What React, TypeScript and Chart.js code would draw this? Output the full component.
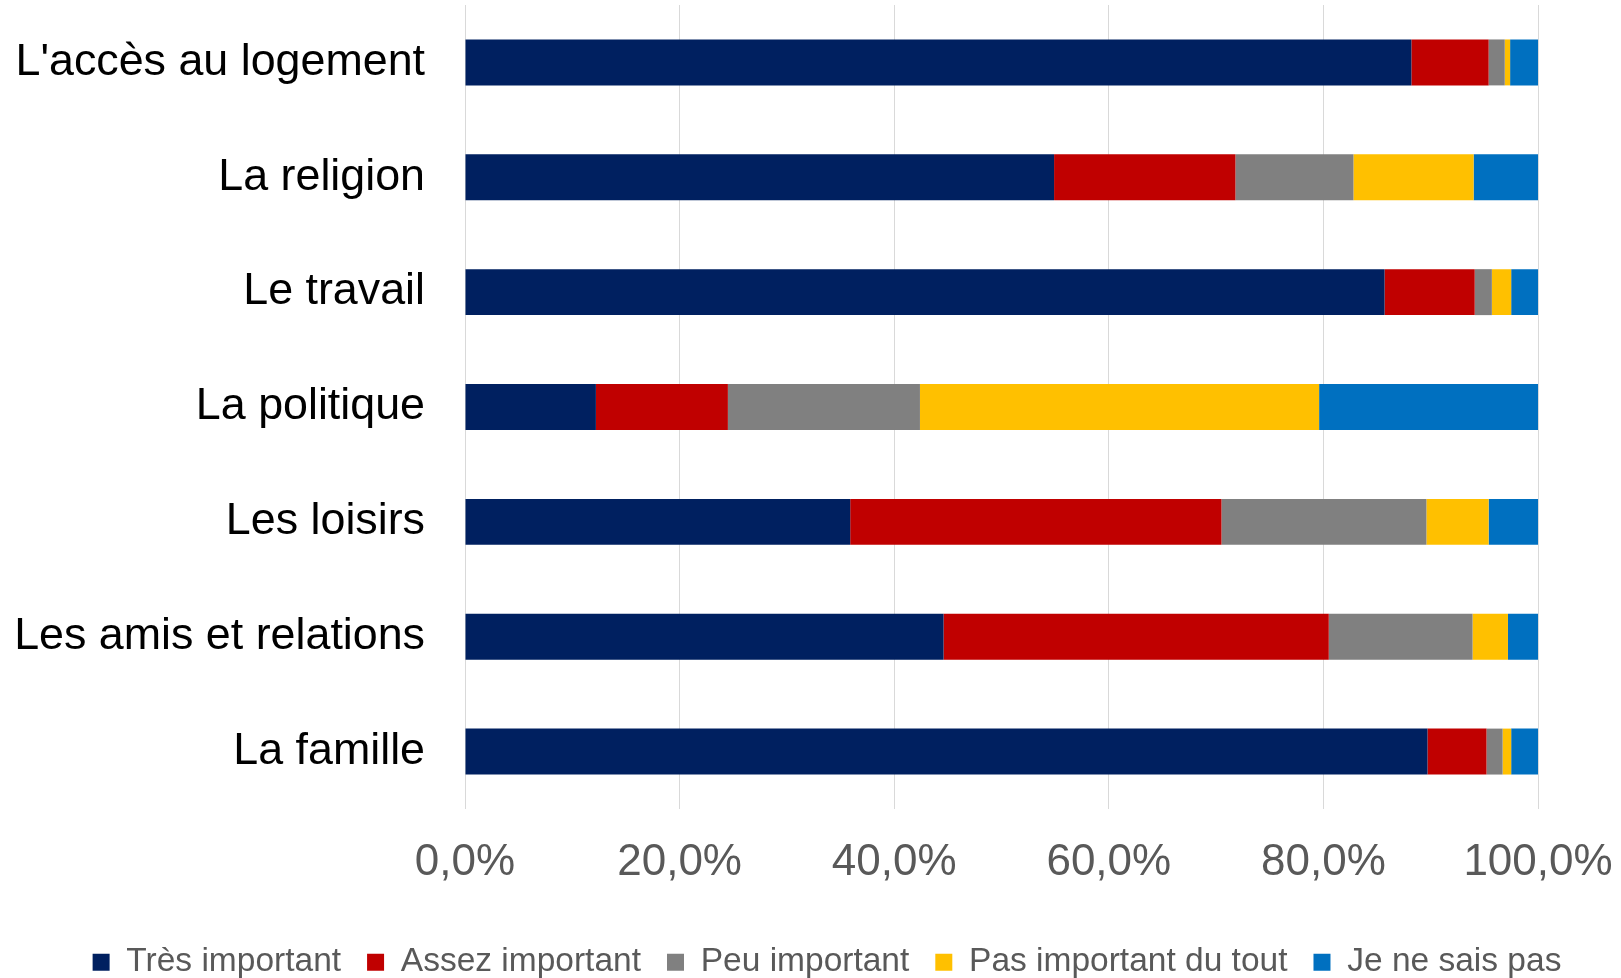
import React, { useEffect, useRef } from "react";
import { Chart, registerables } from "chart.js";

Chart.register(...registerables);

const categories = [
  "L'accès au logement",
  "La religion",
  "Le travail",
  "La politique",
  "Les loisirs",
  "Les amis et relations",
  "La famille",
];
const seriesNames = [
  "Très important",
  "Assez important",
  "Peu important",
  "Pas important du tout",
  "Je ne sais pas",
];
const tresImportant = [88.2, 54.9, 85.7, 12.2, 35.9, 44.6, 89.7];
const assezImportant = [7.2, 16.9, 8.4, 12.3, 34.6, 35.9, 5.5];
const peuImportant = [1.5, 11.0, 1.6, 17.9, 19.1, 13.4, 1.5];
const pasImportant = [0.5, 11.2, 1.8, 37.2, 5.8, 3.3, 0.8];
const neSaisPas = [2.6, 6.0, 2.5, 20.4, 4.6, 2.8, 2.5];
const seriesColors = ["#002060", "#C00000", "#808080", "#FFC000", "#0070C0"];
const xTicks = [0, 20, 40, 60, 80, 100];

const FONT = "'Liberation Sans', Arial, sans-serif";

export default function App() {
  const ref = useRef<HTMLCanvasElement>(null);

  useEffect(() => {
    document.body.style.margin = "0";
    Chart.defaults.font.family = FONT;
    const shiftLegend = {
      id: "shiftLegend",
      afterLayout(chart: any) {
        const l = chart.legend;
        if (l) {
          l.top += 11;
          l.bottom += 11;
          l.left += 58;
          l.right += 58;
        }
      },
    };
    const allValues = [tresImportant, assezImportant, peuImportant, pasImportant, neSaisPas];
    const chart = new Chart(ref.current as HTMLCanvasElement, {
      type: "bar",
      data: {
        labels: categories,
        datasets: seriesNames.map((name, i) => ({
          label: name,
          data: allValues[i],
          backgroundColor: seriesColors[i],
          borderWidth: 0,
          barPercentage: 0.4,
          categoryPercentage: 1,
        })),
      },
      options: {
        indexAxis: "y",
        responsive: false,
        animation: false,
        devicePixelRatio: 1,
        layout: { padding: { left: 0, right: 83, top: 5, bottom: 0 } },
        plugins: {
          tooltip: { enabled: false },
          legend: {
            position: "bottom",
            labels: {
              boxWidth: 17,
              boxHeight: 17,
              padding: 26,
              color: "#595959",
              font: { size: 33.5, family: FONT },
            },
          },
        },
        scales: {
          x: {
            stacked: true,
            min: 0,
            max: 100,
            afterBuildTicks: (s: any) => {
              s.ticks = xTicks.map((v) => ({ value: v }));
            },
            afterFit: (s: any) => {
              s.height = 99.5;
              s.paddingLeft = 0;
              s.paddingRight = 0;
            },
            ticks: {
              color: "#595959",
              font: { size: 44, family: FONT },
              padding: 27,
              callback: (v: any) => Number(v).toFixed(1).replace(".", ",") + "%",
            },
            grid: { color: "#d9d9d9", lineWidth: 1, drawTicks: false },
            border: { display: false },
          },
          y: {
            stacked: true,
            afterFit: (s: any) => {
              s.width = 465;
              s.paddingTop = 0;
              s.paddingBottom = 0;
            },
            ticks: {
              color: "#000000",
              font: { size: 44.8, family: FONT },
              padding: 40,
            },
            grid: { display: false, drawTicks: false },
            border: { display: false },
          },
        },
      },
      plugins: [shiftLegend],
    } as any);
    return () => chart.destroy();
  }, []);

  return (
    <div style={{ width: 1621, height: 978 }}>
      <canvas ref={ref} width={1621} height={978} style={{ display: "block" }} />
    </div>
  );
}
